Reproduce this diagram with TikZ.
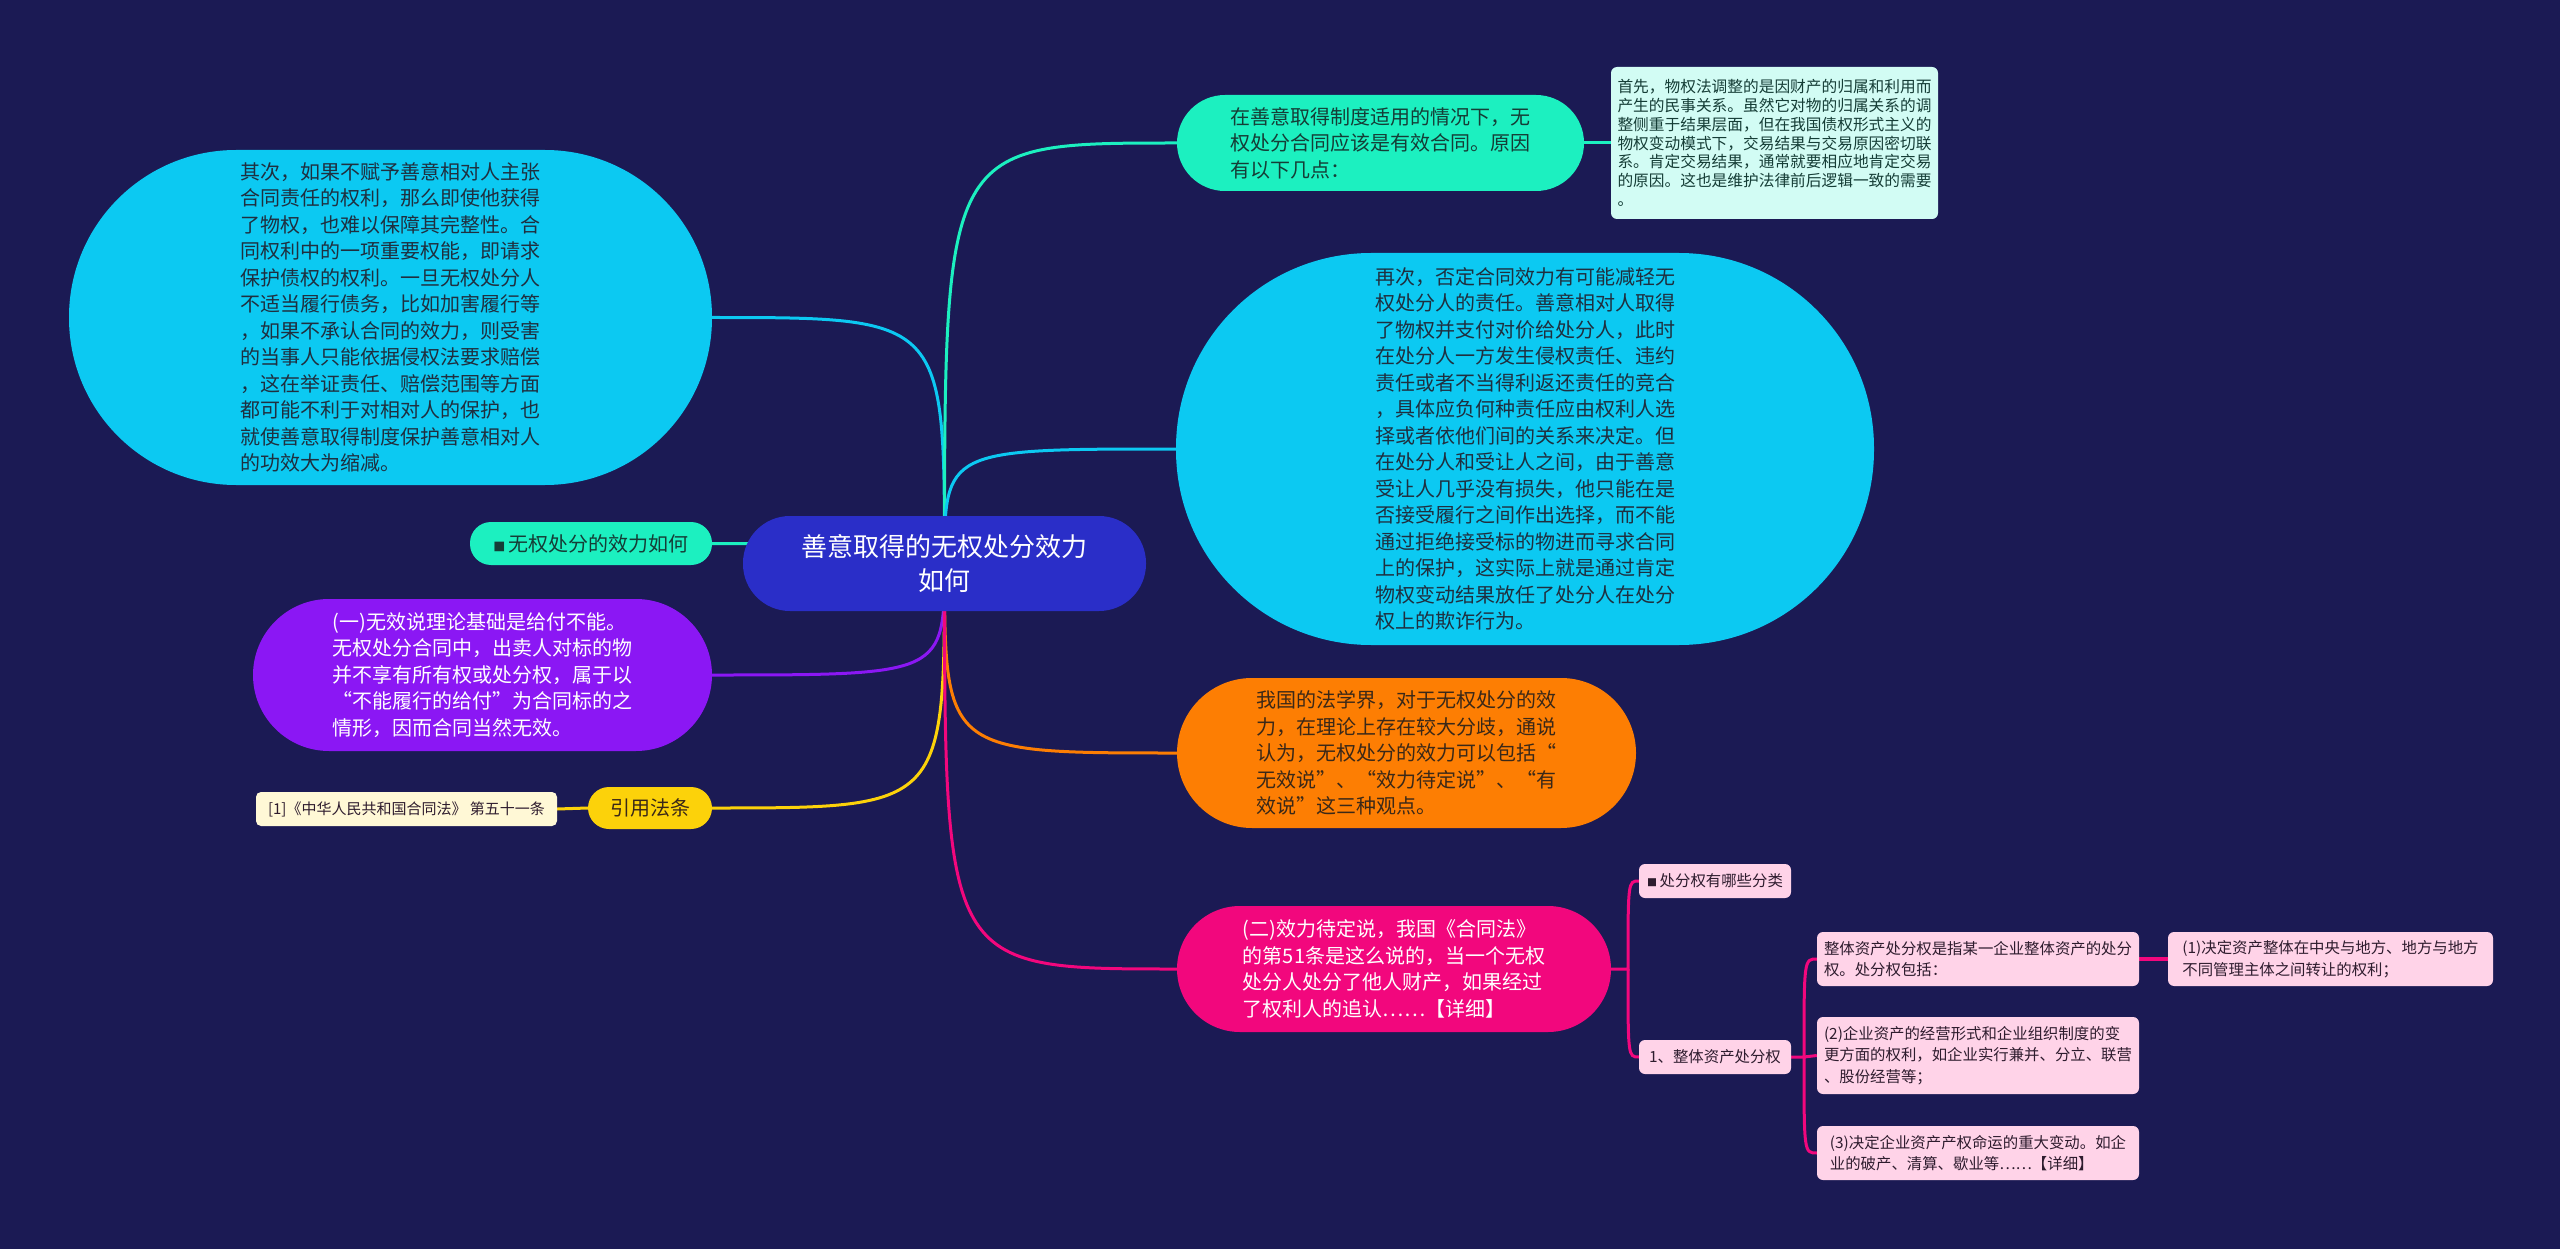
\documentclass[tikz,border=0pt]{standalone}
\usepackage{fontspec}
\setmainfont{Noto Sans CJK SC}
\usetikzlibrary{calc}
\definecolor{bgc}{HTML}{1B1A54}
\definecolor{rootc}{HTML}{2A2EC8}
\definecolor{cyanc}{HTML}{0CC9F2}
\definecolor{aquac}{HTML}{1CF0C0}
\definecolor{purc}{HTML}{8B17F4}
\definecolor{yelc}{HTML}{FCD20A}
\definecolor{crmc}{HTML}{FFF8D6}
\definecolor{orgc}{HTML}{FD7E03}
\definecolor{pnkc}{HTML}{F2077D}
\definecolor{lpnkc}{HTML}{FFD3E8}
\definecolor{ltealc}{HTML}{D2FCF4}
\definecolor{darkt}{HTML}{1F2F3F}
\definecolor{darkg}{HTML}{153D36}
\definecolor{darko}{HTML}{3A2818}
\definecolor{darkp}{HTML}{2E1C2E}
\pgfdeclarelayer{bglayer}
\pgfsetlayers{bglayer,main}
\begin{document}
\begin{tikzpicture}[x=1pt,y=-1pt,
  bub/.style={inner sep=0pt, align=left, font=\fontsize{20pt}{26.5pt}\selectfont},
  sbox/.style={inner sep=0pt, align=left, rounded corners=6pt, fill=lpnkc, text=darkp, font=\fontsize{15.4pt}{21.5pt}\selectfont},
  link/.style={line width=3pt},
  sq/.style={}]
\begin{pgfonlayer}{bglayer}
\fill[bgc] (0,0) rectangle (2560,1249);
\end{pgfonlayer}
\useasboundingbox (0,0) rectangle (2560,1249);

% root
\node[inner sep=0pt, align=center, fill=rootc, text=white, rounded corners=47pt,
  minimum width=403pt, minimum height=95pt, font=\fontsize{26pt}{34pt}\selectfont]
  (root) at (944.5,563.5) {善意取得的无权处分效力\\如何};

% left side
\node[bub, fill=cyanc, text=darkt, rounded corners=167pt, minimum width=643pt, minimum height=335pt]
  (tl) at (390.5,317.5) {其次，如果不赋予善意相对人主张\\合同责任的权利，那么即使他获得\\了物权，也难以保障其完整性。合\\同权利中的一项重要权能，即请求\\保护债权的权利。一旦无权处分人\\不适当履行债务，比如加害履行等\\，如果不承认合同的效力，则受害\\的当事人只能依据侵权法要求赔偿\\，这在举证责任、赔偿范围等方面\\都可能不利于对相对人的保护，也\\就使善意取得制度保护善意相对人\\的功效大为缩减。};

\node[bub, fill=aquac, text=darkg, rounded corners=21pt, minimum width=242pt, minimum height=43pt]
  (wq) at (591,543.5) {{\fontsize{12pt}{12pt}\selectfont ■}\,无权处分的效力如何};

\node[bub, fill=purc, text=white, rounded corners=76pt, minimum width=459pt, minimum height=152pt]
  (pu) at (482.5,675) {(一)无效说理论基础是给付不能。\\无权处分合同中，出卖人对标的物\\并不享有所有权或处分权，属于以\\“不能履行的给付”为合同标的之\\情形，因而合同当然无效。};

\node[bub, fill=yelc, text=darko, rounded corners=21pt, minimum width=124pt, minimum height=42pt]
  (yl) at (650,808) {引用法条};

\node[inner sep=0pt, fill=crmc, text=darkp, rounded corners=5pt, minimum width=301pt, minimum height=34pt,
  font=\fontsize{15pt}{18pt}\selectfont]
  (cr) at (406.5,809) {[1]《中华人民共和国合同法》 第五十一条};

% right side
\node[bub, fill=aquac, text=darkg, rounded corners=48pt, minimum width=407pt, minimum height=96pt]
  (tt) at (1380.5,143) {在善意取得制度适用的情况下，无\\权处分合同应该是有效合同。原因\\有以下几点：};

\node[inner sep=0pt, align=left, fill=ltealc, text=darkg, rounded corners=6pt, minimum width=327pt, minimum height=152pt,
  font=\fontsize{15.7pt}{18.8pt}\selectfont]
  (sx) at (1774.5,143) {首先，物权法调整的是因财产的归属和利用而\\产生的民事关系。虽然它对物的归属关系的调\\整侧重于结果层面，但在我国债权形式主义的\\物权变动模式下，交易结果与交易原因密切联\\系。肯定交易结果，通常就要相应地肯定交易\\的原因。这也是维护法律前后逻辑一致的需要\\。};

\node[bub, fill=cyanc, text=darkt, rounded corners=195pt, minimum width=698pt, minimum height=392pt]
  (rc) at (1525,449) {再次，否定合同效力有可能减轻无\\权处分人的责任。善意相对人取得\\了物权并支付对价给处分人，此时\\在处分人一方发生侵权责任、违约\\责任或者不当得利返还责任的竞合\\，具体应负何种责任应由权利人选\\择或者依他们间的关系来决定。但\\在处分人和受让人之间，由于善意\\受让人几乎没有损失，他只能在是\\否接受履行之间作出选择，而不能\\通过拒绝接受标的物进而寻求合同\\上的保护，这实际上就是通过肯定\\物权变动结果放任了处分人在处分\\权上的欺诈行为。};

\node[bub, fill=orgc, text=darko, rounded corners=75pt, minimum width=459pt, minimum height=150pt]
  (or) at (1406.5,753) {我国的法学界，对于无权处分的效\\力，在理论上存在较大分歧，通说\\认为，无权处分的效力可以包括“\\无效说”、“效力待定说”、“有\\效说”这三种观点。};

\node[bub, fill=pnkc, text=white, rounded corners=63pt, minimum width=434pt, minimum height=126pt]
  (pk) at (1394,969) {(二)效力待定说，我国《合同法》\\的第51条是这么说的，当一个无权\\处分人处分了他人财产，如果经过\\了权利人的追认……【详细】};

\node[sbox, minimum width=152pt, minimum height=34pt] (p1) at (1715,881)
  {{\fontsize{10pt}{10pt}\selectfont ■}\,处分权有哪些分类};
\node[sbox, minimum width=152pt, minimum height=34pt] (p2) at (1715,1057) {1、整体资产处分权};
\node[sbox, minimum width=322pt, minimum height=54pt] (q1) at (1978,959)
  {整体资产处分权是指某一企业整体资产的处分\\权。处分权包括：};
\node[sbox, minimum width=325pt, minimum height=54pt] (q4) at (2330.5,959)
  {(1)决定资产整体在中央与地方、地方与地方\\不同管理主体之间转让的权利；};
\node[sbox, minimum width=322pt, minimum height=77pt] (q2) at (1978,1055.5)
  {(2)企业资产的经营形式和企业组织制度的变\\更方面的权利，如企业实行兼并、分立、联营\\、股份经营等；};
\node[sbox, minimum width=322pt, minimum height=54pt] (q3) at (1978,1153)
  {(3)决定企业资产产权命运的重大变动。如企\\业的破产、清算、歇业等……【详细】};

% connectors
\begin{pgfonlayer}{bglayer}
\draw[link, cyanc] (root.center) .. controls (root.center |- tl.east) .. (tl.east);
\draw[link, aquac] (root.center) .. controls (root.center |- wq.east) .. (wq.east);
\draw[link, purc] (root.center) .. controls (root.center |- pu.east) .. (pu.east);
\draw[link, yelc] (root.center) .. controls (root.center |- yl.east) .. (yl.east);
\draw[link, aquac] (root.center) .. controls (root.center |- tt.west) .. (tt.west);
\draw[link, cyanc] (root.center) .. controls (root.center |- rc.west) .. (rc.west);
\draw[link, orgc] (root.center) .. controls (root.center |- or.west) .. (or.west);
\draw[link, pnkc] (root.center) .. controls (root.center |- pk.west) .. (pk.west);
\draw[link, aquac] (tt.east) -- (sx.west);
\draw[link, yelc] (yl.west) -- (cr.east);
\coordinate (j1) at (1628,969);
\draw[link, pnkc] (pk.east) -- (j1) .. controls (j1 |- p1.west) .. (p1.west);
\draw[link, pnkc] (j1) .. controls (j1 |- p2.west) .. (p2.west);
\coordinate (j2) at (1804,1057);
\draw[link, pnkc] (p2.east) -- (j2) .. controls (j2 |- q1.west) .. (q1.west);
\draw[link, pnkc] (j2) -- (q2.west);
\draw[link, pnkc] (j2) .. controls (j2 |- q3.west) .. (q3.west);
\draw[line width=4pt, pnkc] (q1.east) -- (q4.west);
\end{pgfonlayer}
\end{tikzpicture}
\end{document}
